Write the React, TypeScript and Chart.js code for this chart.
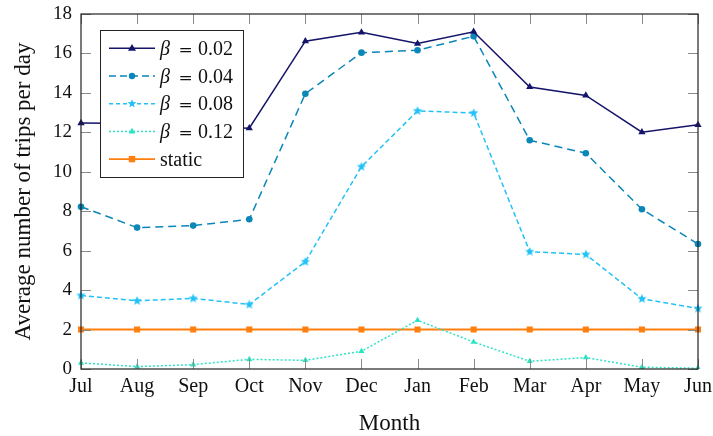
import React, { useEffect, useRef } from "react";
import { Chart, registerables } from "chart.js";

Chart.register(...registerables);

// Months of the season, July through June
const months = ["Jul", "Aug", "Sep", "Oct", "Nov", "Dec", "Jan", "Feb", "Mar", "Apr", "May", "Jun"];

// Average number of trips per day for each β setting
const beta002 = [12.47, 12.45, 12.3, 12.21, 16.62, 17.07, 16.5, 17.1, 14.3, 13.87, 12.01, 12.38];
const beta004 = [8.23, 7.17, 7.27, 7.59, 13.96, 16.04, 16.16, 16.87, 11.6, 10.94, 8.1, 6.34];
const beta008 = [3.73, 3.46, 3.58, 3.27, 5.44, 10.26, 13.09, 12.98, 5.95, 5.81, 3.56, 3.07];
const beta012 = [0.31, 0.12, 0.22, 0.49, 0.44, 0.9, 2.47, 1.37, 0.39, 0.58, 0.09, 0.04];
const staticTrips = [2, 2, 2, 2, 2, 2, 2, 2, 2, 2, 2, 2];

const yTicks = [0, 2, 4, 6, 8, 10, 12, 14, 16, 18];

const FONT = "'Liberation Serif', 'DejaVu Serif', serif";

const C_002 = "#14146a";
const C_004 = "#0a86b8";
const C_008 = "#22c2f6";
const C_012 = "#2ae4c4";
const C_STATIC = "#ff7f0e";

function starPath(ctx: CanvasRenderingContext2D, cx: number, cy: number, r: number) {
  ctx.beginPath();
  for (let i = 0; i < 10; i++) {
    const rad = i % 2 === 0 ? r : r * 0.45;
    const a = -Math.PI / 2 + (i * Math.PI) / 5;
    const px = cx + rad * Math.cos(a);
    const py = cy + rad * Math.sin(a);
    if (i === 0) ctx.moveTo(px, py);
    else ctx.lineTo(px, py);
  }
  ctx.closePath();
}

function makeStar(color: string, r: number): HTMLCanvasElement {
  const size = Math.ceil(r * 2 + 2);
  const c = document.createElement("canvas");
  c.width = size;
  c.height = size;
  const ctx = c.getContext("2d")!;
  ctx.fillStyle = color;
  starPath(ctx, size / 2, size / 2, r);
  ctx.fill();
  return c;
}

type Entry = {
  label: string;
  color: string;
  dash: number[];
  marker: "triangle" | "circle" | "star" | "rect";
  size: number;
  italicBeta: boolean;
};

const legendEntries: Entry[] = [
  { label: "0.02", color: C_002, dash: [], marker: "triangle", size: 4.2, italicBeta: true },
  { label: "0.04", color: C_004, dash: [7, 4], marker: "circle", size: 3.2, italicBeta: true },
  { label: "0.08", color: C_008, dash: [4, 3], marker: "star", size: 4.5, italicBeta: true },
  { label: "0.12", color: C_012, dash: [2, 2], marker: "triangle", size: 3.6, italicBeta: true },
  { label: "static", color: C_STATIC, dash: [], marker: "rect", size: 3.2, italicBeta: false },
];

function drawMarker(ctx: CanvasRenderingContext2D, e: Entry, x: number, y: number) {
  ctx.save();
  ctx.fillStyle = e.color;
  ctx.setLineDash([]);
  if (e.marker === "circle") {
    ctx.beginPath();
    ctx.arc(x, y, e.size, 0, Math.PI * 2);
    ctx.fill();
  } else if (e.marker === "rect") {
    ctx.fillRect(x - e.size, y - e.size, e.size * 2, e.size * 2);
  } else if (e.marker === "triangle") {
    const r = e.size;
    ctx.beginPath();
    ctx.moveTo(x, y - r);
    ctx.lineTo(x + r * 0.95, y + r * 0.6);
    ctx.lineTo(x - r * 0.95, y + r * 0.6);
    ctx.closePath();
    ctx.fill();
  } else {
    starPath(ctx, x, y, e.size);
    ctx.fill();
  }
  ctx.restore();
}

// Frame, inward tick marks, axis titles and the boxed legend
const framePlugin = {
  id: "frame",
  afterDatasetsDraw(chart: any) {
    const { ctx, chartArea } = chart;
    const { left, right, top, bottom } = chartArea;
    const xs = chart.scales.x;
    const ys = chart.scales.y;
    const tl = 10;
    ctx.save();
    ctx.setLineDash([]);
    ctx.strokeStyle = "#8a8a8a";
    ctx.lineWidth = 1;
    ctx.beginPath();
    for (let i = 0; i < months.length; i++) {
      const px = Math.round(xs.getPixelForValue(i)) + 0.5;
      ctx.moveTo(px, bottom);
      ctx.lineTo(px, bottom - tl);
      ctx.moveTo(px, top);
      ctx.lineTo(px, top + tl);
    }
    for (const v of yTicks) {
      const py = Math.round(ys.getPixelForValue(v)) + 0.5;
      ctx.moveTo(left, py);
      ctx.lineTo(left + tl, py);
      ctx.moveTo(right, py);
      ctx.lineTo(right - tl, py);
    }
    ctx.stroke();

    ctx.strokeStyle = "#222";
    ctx.lineWidth = 1.2;
    ctx.strokeRect(left, top, right - left, bottom - top);

    // legend box
    const lx = 100, ly = 30, lw = 143, lh = 147;
    ctx.fillStyle = "#fff";
    ctx.fillRect(lx, ly, lw, lh);
    ctx.strokeStyle = "#222";
    ctx.lineWidth = 1;
    ctx.strokeRect(lx + 0.5, ly + 0.5, lw, lh);
    const rowH = 27.7;
    legendEntries.forEach((e, i) => {
      const cy = 48.3 + i * rowH;
      ctx.save();
      ctx.strokeStyle = e.color;
      ctx.lineWidth = e.color === C_STATIC ? 1.8 : 1.5;
      ctx.setLineDash(e.dash);
      ctx.beginPath();
      ctx.moveTo(109, cy);
      ctx.lineTo(155, cy);
      ctx.stroke();
      ctx.restore();
      drawMarker(ctx, e, 132, cy);
      ctx.fillStyle = "#111";
      ctx.textBaseline = "alphabetic";
      ctx.textAlign = "left";
      const base = cy + 6.5;
      if (e.italicBeta) {
        ctx.font = `italic 20px ${FONT}`;
        ctx.fillText("β", 160, base);
        ctx.font = `17px 'DejaVu Serif', serif`;
        ctx.fillText("=", 178.5, base);
        ctx.font = `20px ${FONT}`;
        ctx.fillText(e.label, 198, base);
      } else {
        ctx.font = `20px ${FONT}`;
        ctx.fillText(e.label, 160, base);
      }
    });

    // axis titles
    ctx.fillStyle = "#111";
    ctx.font = `23px ${FONT}`;
    ctx.textAlign = "center";
    ctx.textBaseline = "alphabetic";
    ctx.fillText("Month", (left + right) / 2, 430);
    ctx.save();
    ctx.translate(30, (top + bottom) / 2);
    ctx.rotate(-Math.PI / 2);
    ctx.fillText("Average number of trips per day", 0, 0);
    ctx.restore();
    ctx.restore();
  },
};

export default function App() {
  const ref = useRef<HTMLCanvasElement | null>(null);

  useEffect(() => {
    document.body.style.margin = "0";
    const canvas = ref.current;
    if (!canvas) return;
    const star = makeStar(C_008, 4.8);

    const chart = new Chart(canvas, {
      type: "line",
      data: {
        labels: months,
        datasets: [
          {
            label: "β = 0.02",
            data: beta002,
            borderColor: C_002,
            backgroundColor: C_002,
            borderWidth: 1.5,
            pointStyle: "triangle",
            pointRadius: 4.2,
            pointBorderWidth: 0,
          },
          {
            label: "β = 0.04",
            data: beta004,
            borderColor: C_004,
            backgroundColor: C_004,
            borderWidth: 1.5,
            borderDash: [8, 5],
            pointStyle: "circle",
            pointRadius: 3.3,
            pointBorderWidth: 0,
          },
          {
            label: "β = 0.08",
            data: beta008,
            borderColor: C_008,
            backgroundColor: C_008,
            borderWidth: 1.5,
            borderDash: [5, 3],
            pointStyle: star as any,
            pointRadius: 5,
            pointBorderWidth: 0,
          },
          {
            label: "β = 0.12",
            data: beta012,
            borderColor: C_012,
            backgroundColor: C_012,
            borderWidth: 1.5,
            borderDash: [2, 2],
            pointStyle: "triangle",
            pointRadius: 3.6,
            pointBorderWidth: 0,
          },
          {
            label: "static",
            data: staticTrips,
            borderColor: C_STATIC,
            backgroundColor: C_STATIC,
            borderWidth: 2,
            pointStyle: "rect",
            pointRadius: 4.3,
            pointBorderWidth: 0,
          },
        ],
      },
      options: {
        responsive: false,
        animation: false,
        layout: { padding: { top: 14, right: 15, left: 0, bottom: 0 } },
        plugins: {
          legend: { display: false },
          tooltip: { enabled: false },
        },
        scales: {
          x: {
            type: "category",
            offset: false,
            grid: { display: false, drawTicks: false },
            border: { display: false },
            ticks: {
              color: "#111",
              font: { family: FONT, size: 20 },
              padding: 6,
              maxRotation: 0,
              autoSkip: false,
            },
            afterFit: (s: any) => {
              s.height = 67;
              s.paddingLeft = 0;
              s.paddingRight = 0;
            },
          },
          y: {
            min: 0,
            max: 18,
            grid: { display: false, drawTicks: false },
            border: { display: false },
            afterBuildTicks: (s: any) => {
              s.ticks = yTicks.map((v) => ({ value: v }));
            },
            ticks: {
              color: "#111",
              font: { family: FONT, size: 19 },
              padding: 9,
            },
            afterFit: (s: any) => {
              s.width = 81;
              s.paddingTop = 0;
              s.paddingBottom = 0;
            },
          },
        },
      },
      plugins: [framePlugin],
    });
    return () => chart.destroy();
  }, []);

  return (
    <div style={{ width: 713, height: 436 }}>
      <canvas ref={ref} width={713} height={436} style={{ display: "block" }} />
    </div>
  );
}
